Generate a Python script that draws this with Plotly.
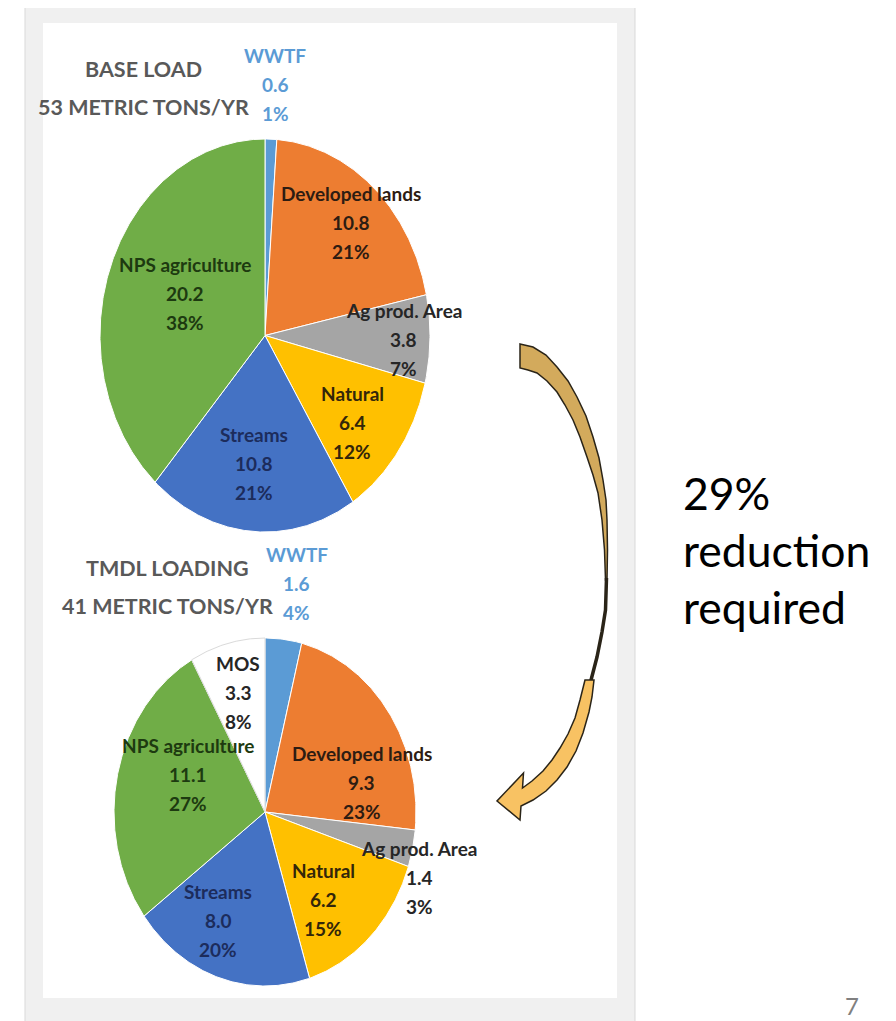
import numpy as np
import plotly.graph_objects as go

# ---------------- data ----------------
base_categories = ["WWTF", "Developed lands", "Ag prod. Area", "Natural", "Streams", "NPS agriculture"]
base_values = [0.6, 10.8, 3.8, 6.4, 10.8, 20.2]

tmdl_categories = ["WWTF", "Developed lands", "Ag prod. Area", "Natural", "Streams", "NPS agriculture", "MOS"]
tmdl_values = [1.6, 9.3, 1.4, 6.2, 8.0, 11.1, 3.3]

base_title = "BASE LOAD"
tmdl_title = "TMDL LOADING"
reduction_lines = ["29%", "reduction", "required"]
page_number = "7"

# ---------------- styles ----------------
slice_colors = {
    "WWTF": "#5B9BD5",
    "Developed lands": "#ED7D31",
    "Ag prod. Area": "#A5A5A5",
    "Natural": "#FFC000",
    "Streams": "#4472C4",
    "NPS agriculture": "#70AD47",
    "MOS": "#FFFFFF",
}
slice_edges = {"MOS": "#DADADA"}
label_colors = {
    "WWTF": "#5B9BD5",
    "Developed lands": "#2d1c12",
    "Ag prod. Area": "#262626",
    "Natural": "#33260a",
    "Streams": "#1c2c5c",
    "NPS agriculture": "#1d3a10",
    "MOS": "#262626",
}
FONT = "Lato"
OFF = 8  # page body margin of the html page

# pie geometry (page pixels): centre x, centre y, radius x, radius y
base_geom = dict(cx=265, cy=335.5, rx=165, ry=196.5)
tmdl_geom = dict(cx=265, cy=812, rx=151, ry=174)
# label placement: (radial factor, angle tweak in degrees)
base_label_pos = [(1.28, 0.7), (0.776, 1.0), (0.84, 0.4), (0.69, 4.0), (0.655, 1.0), (0.53, 3.0)]
tmdl_label_pos = [(1.33, 2.0), (0.663, 20.0), (1.088, 8.0), (0.635, 7.0), (0.694, 8.5), (0.555, 11.0), (0.709, 0.0)]

fig = go.Figure()
annotations = []
shapes = []


def add_pie(categories, values, geom, label_pos):
    total = sum(values)
    cum = np.concatenate([[0.0], np.cumsum(values)]) / total * 360.0
    cx, cy, rx, ry = geom["cx"], geom["cy"], geom["rx"], geom["ry"]
    for i, cat in enumerate(categories):
        a0, a1 = cum[i], cum[i + 1]
        t = np.radians(np.linspace(a0, a1, max(int((a1 - a0) * 2), 2) + 1))
        xs = np.concatenate([[cx], cx + rx * np.sin(t), [cx]])
        ys = np.concatenate([[cy], cy - ry * np.cos(t), [cy]])
        fig.add_trace(go.Scatter(
            x=xs, y=ys, mode="lines", fill="toself",
            fillcolor=slice_colors[cat],
            line=dict(color=slice_edges.get(cat, "#FFFFFF"), width=1),
            name=cat, hoverinfo="name", showlegend=False,
        ))
        r, dth = label_pos[i]
        mid = np.radians((a0 + a1) / 2 + dth)
        lx = cx + r * rx * np.sin(mid)
        ly = cy - r * ry * np.cos(mid)
        pct = f"{round(100 * values[i] / total)}%"
        lines = [cat, f"{values[i]:.1f}", pct]
        for k, txt in enumerate(lines):
            annotations.append(dict(
                x=lx, y=ly + (k - 1) * 29, xref="x", yref="y",
                text=f"<b>{txt}</b>", showarrow=False,
                xanchor="center", yanchor="middle",
                font=dict(family=FONT, size=19, color=label_colors[cat]),
            ))
    return total


base_total = add_pie(base_categories, base_values, base_geom, base_label_pos)
tmdl_total = add_pie(tmdl_categories, tmdl_values, tmdl_geom, tmdl_label_pos)

# titles
for title, total, cx, y0 in [(base_title, base_total, 143, 69), (tmdl_title, tmdl_total, 167, 568)]:
    annotations.append(dict(x=cx, y=y0, xref="x", yref="y", text=f"<b>{title}</b>",
                            showarrow=False, xanchor="center", yanchor="middle",
                            font=dict(family=FONT, size=21.5, color="#595959")))
    annotations.append(dict(x=cx, y=y0 + 38, xref="x", yref="y",
                            text=f"<b>{round(total)} METRIC TONS/YR</b>",
                            showarrow=False, xanchor="center", yanchor="middle",
                            font=dict(family=FONT, size=21.5, color="#595959")))

# right-hand note
for k, txt in enumerate(reduction_lines):
    annotations.append(dict(x=681, y=492 + k * 57, xref="x", yref="y", text=txt,
                            showarrow=False, xanchor="left", yanchor="middle",
                            font=dict(family=FONT, size=44.5, color="#000000")))

annotations.append(dict(x=852, y=1005, xref="x", yref="y", text=page_number,
                        showarrow=False, xanchor="center", yanchor="middle",
                        font=dict(family=FONT, size=24, color="#808080")))

# frame
shapes.append(dict(type="rect", xref="x", yref="y", x0=25, y0=5, x1=635, y1=1040,
                   fillcolor="#F0F0F0", line=dict(color="#D9D9D9", width=1), layer="below"))
shapes.append(dict(type="rect", xref="x", yref="y", x0=43, y0=23, x1=617, y1=998,
                   fillcolor="#FFFFFF", line=dict(width=0), layer="below"))


def path(pts, close=True):
    s = "M " + " L ".join(f"{x},{y}" for x, y in pts)
    return s + (" Z" if close else "")


# curved arrow: tan upper ribbon, twisted thin middle, light-orange lower part with head
top_outer = [(520, 344), (533, 347), (546, 355), (557, 367), (568, 381), (577, 397), (586, 416),
             (593, 437), (599, 458), (603, 480), (606, 500), (607, 520), (607.5, 550), (607, 580)]
top_inner = [(605.5, 580), (604.5, 550), (602, 520), (598, 493), (593, 475), (587, 457), (580, 437),
             (573, 420), (565, 405), (557, 392), (547, 381), (537, 373), (528, 370), (520, 368)]
shapes.append(dict(type="path", xref="x", yref="y", path=path(top_outer + top_inner),
                   fillcolor="#D3AA5C", line=dict(color="#2a2418", width=1.5), layer="above"))

mid_line = [(606.5, 578), (605.5, 610), (602, 632), (597, 657), (590, 684)]
shapes.append(dict(type="path", xref="x", yref="y", path=path(mid_line, close=False),
                   line=dict(color="#2a2418", width=3.5), layer="above"))

bot_upper = [(585, 680), (580, 700), (575, 718), (568, 734), (560, 748), (552, 760), (543, 771),
             (532, 781), (522.5, 788)]
bot_head = [(523.5, 773), (497, 801), (520, 820)]
bot_lower = [(521, 806), (533, 800), (546, 791), (557, 780), (567, 767), (576, 751), (583, 733),
             (589, 712), (592, 697), (594, 680)]
shapes.append(dict(type="path", xref="x", yref="y", path=path(bot_upper + bot_head + bot_lower),
                   fillcolor="#F8C263", line=dict(color="#2a2418", width=1.5), layer="above"))

fig.update_layout(
    width=896, height=1021,
    margin=dict(l=0, r=0, t=0, b=0),
    paper_bgcolor="#FFFFFF", plot_bgcolor="rgba(0,0,0,0)",
    showlegend=False,
    xaxis=dict(range=[OFF, 896 + OFF], visible=False, fixedrange=True, domain=[0, 1]),
    yaxis=dict(range=[1021 + OFF, OFF], visible=False, fixedrange=True, domain=[0, 1]),
    annotations=annotations,
    shapes=shapes,
)

fig.write_html("out.html")
